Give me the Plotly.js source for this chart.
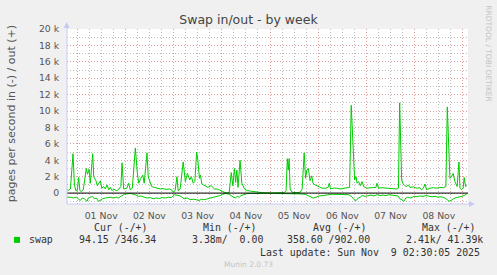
<!DOCTYPE html>
<html>
<head>
<meta charset="utf-8">
<script src="https://cdn.plot.ly/plotly-3.0.1.min.js"></script>
<style>html,body{margin:0;padding:0;background:#F0F0F0;}#chart{width:497px;height:275px;}</style>
</head>
<body>
<div id="chart"></div>
<script>
// Hours relative to 2025-11-01 00:00, values in thousands of pages/s
const outHours = [-5.0,-4.3,-3.3,-2.0,-1.3,-0.6,0.1,0.8,1.4,2.1,3.1,4.6,5.2,6.0,6.6,7.8,8.3,9.4,10.1,10.7,11.6,12.3,13.2,14.1,14.9,15.8,16.5,17.5,18.2,19.5,20.5,21.8,22.4,23.2,24.8,25.7,26.5,27.5,29.0,30.0,30.7,31.7,32.7,33.4,34.8,35.4,36.3,37.1,38.4,39.9,41.4,42.9,44.4,45.9,47.0,47.9,48.8,49.7,50.3,51.3,52.8,53.9,54.9,56.1,56.9,57.8,58.6,59.5,60.1,60.9,61.4,62.1,63.4,65.1,66.7,68.4,69.7,70.9,72.5,73.3,74.7,75.7,76.7,77.5,78.3,78.9,79.5,80.1,81.1,82.0,83.3,84.6,87.1,89.6,92.1,96.1,100.0,103.0,104.0,104.6,105.1,105.5,106.0,107.0,109.0,111.0,112.0,113.0,113.7,114.3,115.1,115.9,116.8,117.4,118.4,119.9,121.9,123.9,124.9,125.5,126.1,127.4,129.2,130.8,132.3,134.2,135.6,136.4,138.1,138.8,139.3,140.1,140.9,141.8,142.6,144.2,146.2,147.7,148.7,149.2,150.0,151.7,153.7,155.7,157.7,159.2,159.9,160.5,161.5,162.3,163.1,164.0,164.8,165.6,167.3,169.0,170.6,171.4,172.3,173.1,173.9,175.6,177.2,178.9,180.5,182.2,183.5,184.2,185.5,186.3,187.1,188.0,189.1,190.0,190.5,191.3,192.1,192.6,193.3,193.9];
const outValues = [0.4,0.35,0.5,4.8,1.0,0.3,0.3,1.9,0.3,0.2,0.4,3.0,2.3,2.9,1.2,4.8,2.0,1.5,0.9,1.1,1.5,0.6,0.8,0.5,1.0,0.4,0.7,0.3,0.5,0.3,0.4,0.8,3.7,0.5,0.6,1.2,0.4,0.6,5.5,2.4,1.2,1.8,2.2,1.2,4.9,2.0,1.2,0.8,0.7,0.6,0.5,0.55,0.45,0.5,0.4,0.1,0.3,2.0,0.3,0.5,3.8,1.4,2.4,1.6,2.0,1.2,1.4,5.0,4.0,1.8,2.2,1.1,0.9,0.7,0.9,0.5,0.5,0.4,0.2,0.1,0.0,0.1,2.5,0.9,3.0,1.3,2.8,0.7,4.0,1.2,0.5,0.3,0.2,0.1,0.05,0.0,0.05,0.05,0.3,4.2,2.8,4.2,0.5,0.1,0.05,0.1,0.5,4.9,1.8,2.8,3.0,1.5,2.1,1.2,1.0,0.8,0.6,0.6,0.7,1.2,0.5,0.6,0.6,0.5,0.55,0.6,0.7,10.7,1.6,2.0,1.2,1.4,0.9,1.4,0.8,0.6,0.65,0.6,0.7,1.2,0.6,0.65,0.6,0.55,0.55,0.5,0.6,11.0,1.6,1.1,0.9,0.8,1.0,0.7,0.75,0.6,0.65,0.4,0.6,1.1,0.4,0.6,0.65,0.6,0.7,0.65,0.8,10.5,1.8,2.0,2.4,1.4,0.8,3.8,0.6,0.4,0.6,1.9,0.8,0.9];

const inHours = [-5.0,-3.3,-1.8,-0.3,0.6,1.6,2.6,3.6,5.0,5.6,6.6,7.6,8.6,9.6,10.7,11.6,12.6,14.1,15.6,16.5,18.0,19.5,20.5,22.4,23.5,24.5,25.5,26.5,27.5,29.0,30.5,31.9,33.4,34.9,36.4,37.9,39.4,40.9,42.4,43.9,45.4,46.9,48.4,49.9,51.3,53.3,54.8,56.3,57.8,59.3,60.8,61.8,63.3,64.8,66.7,68.2,69.7,71.2,72.5,73.7,75.2,76.7,77.7,78.7,79.7,80.7,81.6,83.1,84.6,88.6,93.6,101.0,106.0,108.5,111.0,113.5,115.0,116.5,117.4,118.9,120.4,122.4,124.4,126.4,128.3,130.8,133.3,135.3,136.9,137.9,138.9,139.9,140.9,141.8,143.3,144.8,146.2,147.7,149.2,150.7,152.2,153.7,155.2,156.7,158.2,159.7,160.6,161.6,162.6,163.6,164.6,166.1,167.6,169.1,170.6,172.1,173.6,175.1,176.6,178.1,179.6,181.1,182.6,184.1,185.1,186.1,187.1,188.6,190.0,191.5,193.0,194.0];
const inValues = [-0.5,-0.5,-0.6,-0.5,-0.7,-0.9,-0.6,-0.7,-1.0,-0.6,-0.5,-0.4,-0.7,-0.6,-1.0,-0.8,-0.7,-0.6,-0.5,-0.5,-0.6,-0.5,-0.6,-0.3,-0.15,-0.1,-0.05,-0.05,-0.1,-0.2,-0.4,-0.35,-0.5,-0.6,-0.55,-0.7,-0.6,-0.65,-0.55,-0.6,-0.5,-0.55,-0.2,-0.3,-0.35,-0.7,-0.6,-0.8,-0.75,-0.8,-0.9,-0.75,-0.8,-0.7,-0.6,-0.55,-0.4,-0.3,-0.15,-0.05,-0.1,-0.3,-0.5,-0.6,-0.4,-0.5,-0.3,-0.15,-0.05,-0.05,0,-0.05,-0.05,-0.1,-0.1,-0.15,-0.3,-0.5,-0.6,-0.5,-0.35,-0.3,-0.2,-0.15,-0.15,-0.2,-0.25,-0.2,-0.5,-0.8,-0.9,-0.6,-0.5,-0.3,-0.4,-0.3,-0.25,-0.35,-0.2,-0.3,-0.25,-0.3,-0.2,-0.25,-0.3,-0.35,-0.7,-0.8,-1.0,-0.6,-0.5,-0.6,-0.4,-0.45,-0.35,-0.4,-0.3,-0.35,-0.45,-0.4,-0.5,-0.45,-0.55,-0.8,-1.0,-0.9,-0.7,-0.55,-0.5,-0.4,-0.25,-0.05];

const yTickVals = [0,2,4,6,8,10,12,14,16,18,20];
const yTickText = ["0","2 k","4 k","6 k","8 k","10 k","12 k","14 k","16 k","18 k","20 k"];
const legendHeaders = ["Cur (-/+)","Min (-/+)","Avg (-/+)","Max (-/+)"];
const legendValues = ["94.15 /346.34","3.38m/\u00a0\u00a00.00","358.60 /902.00","2.41k/ 41.39k"];
const seriesName = "swap";
const lastUpdate = "Last update: Sun Nov\u00a0\u00a09 02:30:05 2025";

const BASE = Date.UTC(2025,10,1,0,0,0);
const H = 3600000;
const toTime = h => BASE + h*H;

// layout helpers (pixel -> paper) for text placement
const PL = 67, PR = 468, PT = 28.5, PB = 204;
const px = x => (x - PL)/(PR - PL);
const py = y => (PB - y)/(PB - PT);

const green = "#00CC00";
const traces = [
  {x: inHours.map(toTime), y: inValues, type: "scatter", mode: "lines", line: {color: green, width: 1}, hoverinfo: "skip"},
  {x: outHours.map(toTime), y: outValues, type: "scatter", mode: "lines", line: {color: green, width: 1}, hoverinfo: "skip"}
];

const mono = {family: "DejaVu Sans Mono", size: 9.9, color: "#333"};
const ann = [];
const hdrX = [120.5, 230.3, 339.7, 449.3];
legendHeaders.forEach((t,i)=>ann.push({text:t, xref:"paper", yref:"paper", x:px(hdrX[i]), y:py(227.3), xanchor:"center", yanchor:"middle", showarrow:false, font:mono}));
ann.push({text:seriesName, xref:"paper", yref:"paper", x:px(26.7), y:py(240), xanchor:"left", yanchor:"middle", showarrow:false, font:mono});
const valX = [77.3, 190, 285, 404.3];
legendValues.forEach((t,i)=>ann.push({text:t, xref:"paper", yref:"paper", x:px(valX[i]), y:py(240), xanchor:"left", yanchor:"middle", showarrow:false, font:mono}));
ann.push({text:lastUpdate, xref:"paper", yref:"paper", x:px(482.3), y:py(252.3), xanchor:"right", yanchor:"middle", showarrow:false, font:mono});
ann.push({text:"Munin 2.0.73", xref:"paper", yref:"paper", x:px(248), y:py(264.3), xanchor:"center", yanchor:"middle", showarrow:false, font:{family:"DejaVu Sans", size:7.5, color:"#c4c4c4"}});
ann.push({text:"RRDTOOL / TOBI OETIKER", textangle:90, xref:"paper", yref:"paper", x:px(487.7), y:py(53.5), xanchor:"center", yanchor:"middle", showarrow:false, font:{family:"DejaVu Sans", size:7.5, color:"#c4c4c4"}});
ann.push({text:"pages per second in (-) / out (+)", textangle:-90, xref:"paper", yref:"paper", x:px(11), y:py(114), xanchor:"center", yanchor:"middle", showarrow:false, font:{family:"DejaVu Sans", size:11, color:"#555"}});

const axisBlue = "#c8c8f4";
const shapes = [
  {type:"line", xref:"paper", yref:"y", x0:0, x1:1, y0:0, y1:0, line:{color:"#000", width:1}, layer:"above"},
  {type:"rect", xref:"paper", yref:"paper", x0:px(14), x1:px(20), y0:py(243), y1:py(237), fillcolor:green, line:{width:0}},
  {type:"line", xref:"paper", yref:"paper", x0:0, x1:0, y0:0, y1:py(25), line:{color:axisBlue, width:1}, layer:"above"},
  {type:"line", xref:"paper", yref:"paper", x0:0, x1:px(471), y0:0, y1:0, line:{color:axisBlue, width:1}, layer:"above"},
  {type:"path", xref:"paper", yref:"paper", path:`M ${px(63.7)} ${py(27.5)} L ${px(69.7)} ${py(27.5)} L ${px(66.7)} ${py(21.5)} Z`, fillcolor:axisBlue, line:{width:0}},
  {type:"path", xref:"paper", yref:"paper", path:`M ${px(469)} ${py(201)} L ${px(469)} ${py(207)} L ${px(475)} ${py(204)} Z`, fillcolor:axisBlue, line:{width:0}}
];

const majorGrid = "#e29a9a", minorGrid = "#bdbdbd", gridDash = "1px,2px";
const layout = {
  width: 497, height: 275,
  paper_bgcolor: "#F0F0F0", plot_bgcolor: "#FFFFFF",
  margin: {l: PL, r: 497-PR, t: PT, b: 275-PB, pad: 0},
  showlegend: false, hovermode: false,
  title: {text: "Swap in/out - by week", x: 0.5, xref: "container", y: 1-20/275, yref: "container", xanchor: "center", yanchor: "middle", font: {family: "DejaVu Sans", size: 12.5, color: "#444"}},
  xaxis: {
    type: "date", range: [toTime(-5), toTime(194.5)],
    tick0: BASE, dtick: 86400000, tickformat: "%d %b", ticklabelmode: "period",
    showgrid: true, gridcolor: majorGrid, griddash: gridDash, gridwidth: 1,
    minor: {dtick: 6*H, showgrid: true, gridcolor: minorGrid, griddash: gridDash, gridwidth: 1},
    ticks: "outside", ticklen: 3, tickcolor: "rgba(0,0,0,0)",
    tickfont: {family: "DejaVu Sans", size: 9.3, color: "#555"},
    showline: false, zeroline: false, fixedrange: true
  },
  yaxis: {
    range: [-1.33, 20],
    tickmode: "array", tickvals: yTickVals, ticktext: yTickText,
    showgrid: true, gridcolor: majorGrid, griddash: gridDash, gridwidth: 1,
    minor: {dtick: 1, tick0: 0, showgrid: true, gridcolor: minorGrid, griddash: gridDash, gridwidth: 1},
    ticks: "outside", ticklen: 5, tickcolor: "rgba(0,0,0,0)",
    tickfont: {family: "DejaVu Sans", size: 9.3, color: "#555"},
    showline: false, zeroline: false, fixedrange: true
  },
  annotations: ann,
  shapes: shapes
};

Plotly.newPlot("chart", traces, layout, {staticPlot: true, displayModeBar: false});
</script>
</body>
</html>
